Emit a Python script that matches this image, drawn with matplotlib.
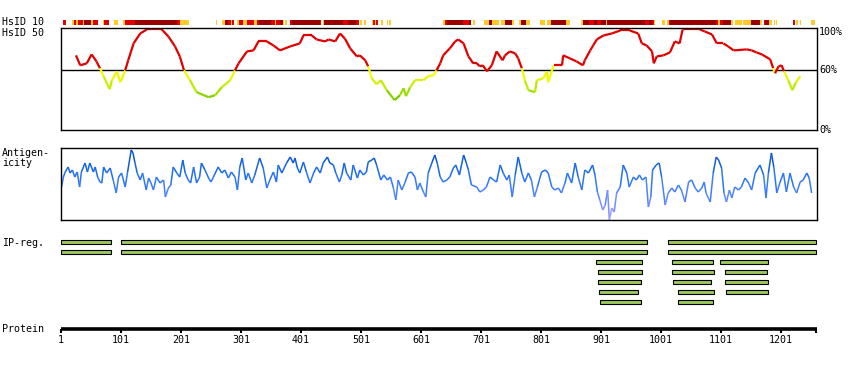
import numpy as np
import matplotlib
matplotlib.use("Agg")
import matplotlib.pyplot as plt
from matplotlib.collections import LineCollection
from matplotlib.colors import LinearSegmentedColormap
import matplotlib.transforms as mtransforms

protein_len = 1260

# HsID 10 strip: (start, end) residues per colour
strip_dark = [(40, 51), (124, 195), (274, 280), (331, 351), (366, 371), (386, 432), (439, 471),
              (479, 492), (645, 671), (681, 684), (714, 719), (741, 753), (768, 776), (818, 843),
              (871, 881), (889, 894), (901, 909), (911, 975), (981, 986), (1016, 1093),
              (1104, 1118), (1151, 1166), (1174, 1181)]
strip_red = [(4, 9), (23, 26), (29, 38), (55, 63), (73, 81), (107, 124), (195, 199), (280, 284),
             (286, 290), (298, 304), (311, 323), (328, 331), (351, 358), (360, 366), (383, 386),
             (432, 435), (471, 479), (492, 498), (521, 525), (526, 529), (641, 645), (671, 681),
             (881, 889), (894, 901), (975, 981), (986, 989), (1014, 1016), (1093, 1096),
             (1099, 1104), (1173, 1174), (1221, 1224)]
strip_gold = [(19, 23), (26, 29), (38, 40), (51, 55), (71, 73), (89, 96), (104, 107), (199, 214),
              (259, 261), (269, 274), (284, 286), (294, 298), (304, 311), (323, 328), (358, 360),
              (371, 372), (375, 378), (437, 439), (499, 503), (506, 509), (519, 521), (525, 526),
              (534, 538), (544, 546), (548, 551), (638, 641), (688, 691), (706, 714), (719, 731),
              (734, 741), (753, 756), (764, 768), (776, 783), (799, 808), (811, 818), (843, 849),
              (868, 871), (909, 911), (989, 991), (1003, 1008), (1011, 1014), (1096, 1099),
              (1118, 1121), (1124, 1136), (1138, 1151), (1166, 1169), (1181, 1186), (1189, 1191),
              (1193, 1194), (1226, 1229), (1233, 1235), (1251, 1258)]

# HsID 50 curve (%)
hsid50_pos = [26, 33, 44, 52, 60, 66, 72, 82, 86, 94, 100, 108, 113, 122, 133, 144, 169, 180, 191, 199,
              206, 216, 227, 247, 258, 269, 283, 291, 297, 311, 322, 330, 344, 355, 366, 383, 399, 405, 419, 427,
              441, 447, 458, 466, 474, 483, 494, 499, 508, 513, 519, 527, 534, 544, 557, 566, 572, 576, 583, 591,
              605, 613, 622, 627, 633, 638, 649, 658, 663, 672, 680, 688, 694, 699, 704, 711, 719, 727, 737, 741,
              749, 758, 763, 769, 774, 780, 791, 794, 805, 811, 813, 822, 836, 838, 849, 860, 871, 874, 883, 888,
              894, 905, 919, 933, 949, 963, 969, 977, 986, 989, 994, 1005, 1016, 1024, 1032, 1037, 1066, 1074, 1086, 1094,
              1105, 1113, 1122, 1144, 1152, 1160, 1169, 1183, 1188, 1191, 1197, 1202, 1206, 1213, 1220, 1226, 1233]
hsid50_val = [75, 65, 67, 76, 69, 62, 54, 41, 50, 59, 48, 60, 70, 87, 97, 101, 101, 94, 84, 74,
              60, 50, 38, 33, 35, 43, 50, 60, 67, 79, 80, 89, 89, 85, 80, 84, 87, 95, 95, 91,
              89, 91, 89, 97, 92, 82, 74, 75, 70, 64, 52, 46, 50, 40, 30, 35, 42, 34, 43, 50,
              50, 54, 55, 60, 67, 75, 82, 89, 91, 87, 74, 67, 67, 64, 65, 59, 65, 79, 70, 75,
              79, 77, 72, 62, 50, 40, 38, 50, 52, 59, 48, 65, 65, 75, 72, 69, 65, 70, 80, 85,
              91, 95, 97, 100, 100, 97, 87, 85, 79, 67, 74, 75, 78, 89, 87, 101, 101, 99, 96, 87,
              87, 84, 80, 81, 80, 78, 76, 71, 62, 57, 64, 65, 59, 50, 40, 48, 54]

# Antigenicity profile
ant_pos = [2, 5, 8, 13, 16, 20, 24, 28, 32, 35, 41, 45, 49, 55, 58, 62, 66, 69, 72, 77,
           83, 88, 93, 97, 102, 108, 112, 118, 121, 124, 128, 133, 137, 143, 147, 151, 155, 160, 166, 172,
           175, 180, 184, 188, 194, 199, 204, 208, 213, 217, 222, 227, 232, 235, 241, 247, 251, 255, 263, 269,
           274, 280, 285, 291, 295, 299, 303, 309, 313, 319, 324, 332, 335, 338, 344, 349, 355, 360, 363, 369,
           377, 383, 388, 391, 395,
           399, 405, 410, 416, 422, 427, 433, 438, 445, 449, 455, 459, 465, 469, 473, 477, 484, 488, 495, 499,
           505, 510, 513, 519, 523, 527, 534, 539, 545, 550, 555, 559, 563, 569, 574, 580, 585, 591, 595, 599,
           605, 609, 613, 619, 624, 628, 633, 638, 644, 649, 655, 659, 665, 672, 676, 680, 685, 694, 699, 705,
           710, 716, 722, 727, 733, 738, 744, 748, 753, 758, 763, 769, 774, 780, 785, 790, 795, 802, 808, 813,
           819, 824, 830, 835, 841, 845, 852, 858, 863, 869, 874, 880, 887, 891, 895,
           899, 904, 908, 912, 915, 919, 923, 927, 933, 938, 944, 948, 955, 960, 965, 970, 976, 980, 984, 987,
           993, 998, 1002, 1008, 1013, 1019, 1024, 1030, 1035, 1041, 1047, 1052, 1058, 1063, 1069, 1073, 1076, 1083, 1088, 1093,
           1097, 1102, 1106, 1110, 1115, 1119, 1124, 1130, 1135, 1141, 1147, 1152, 1158, 1166, 1172, 1176, 1180, 1185, 1189, 1194,
           1199, 1205, 1210, 1216, 1222, 1227, 1233, 1238, 1244, 1248, 1252]
ant_val = [33, 43, 48, 53, 47, 50, 43, 48, 33, 48, 57, 48, 57, 48, 53, 43, 38, 37, 53, 47,
           52, 40, 27, 43, 47, 33, 48, 70, 67, 58, 47, 40, 47, 30, 42, 37, 30, 43, 37, 40,
           23, 32, 35, 53, 47, 43, 60, 47, 40, 37, 53, 37, 43, 57, 50, 42, 38, 43, 53, 47,
           50, 42, 48, 43, 30, 53, 62, 40, 47, 37, 45, 62, 57, 52, 32, 40, 48, 38, 55, 47,
           57, 63, 57, 62, 52,
           47, 58, 48, 37, 47, 53, 47, 57, 63, 57, 55, 47, 38, 45, 57, 47, 40, 55, 42, 50,
           45, 48, 58, 60, 62, 55, 40, 45, 40, 43, 32, 20, 40, 30, 37, 47, 48, 43, 30, 37,
           28, 23, 47, 57, 65, 57, 43, 38, 40, 43, 52, 55, 45, 65, 58, 50, 35, 33, 28, 30,
           33, 43, 40, 38, 55, 47, 40, 45, 23, 45, 63, 47, 38, 47, 40, 23, 33, 48, 50, 47,
           33, 30, 32, 27, 37, 47, 37, 57, 43, 30, 50, 47, 55, 45, 28,
           20, 10, 15, 30, 0, 12, 8, 27, 33, 55, 47, 33, 43, 40, 45, 40, 43, 13, 23, 50,
           55, 57, 43, 15, 27, 32, 28, 35, 30, 18, 38, 40, 32, 28, 32, 38, 27, 18, 47, 63,
           60, 52, 27, 18, 30, 22, 33, 30, 33, 42, 37, 30, 47, 55, 45, 22, 47, 67, 53, 27,
           37, 47, 28, 47, 33, 27, 38, 40, 47, 42, 27]

# IP-reg. rows: (start, end) residues
ip_rows = [
    [(1, 84), (101, 977), (1013, 1260)],
    [(1, 84), (101, 977), (1013, 1260)],
    [(893, 970), (1020, 1087), (1100, 1179)],
    [(896, 970), (1020, 1090), (1108, 1177)],
    [(896, 967), (1021, 1085), (1108, 1180)],
    [(898, 962), (1030, 1090), (1110, 1180)],
    [(900, 967), (1030, 1087)],
]

tick_pos = [1, 101, 201, 301, 401, 501, 601, 701, 801, 901, 1001, 1101, 1201]

W, H = 850, 370
FONT = "DejaVu Sans Mono"
FS = 7.2
plt.rcParams["font.family"] = FONT

fig = plt.figure(figsize=(W / 100, H / 100), dpi=100)


def px_axes(x0, y0, x1, y1):
    return fig.add_axes([x0 / W, 1 - y1 / H, (x1 - x0) / W, (y1 - y0) / H])


def label(x, y, s):
    fig.text(x / W, 1 - y / H, s, fontsize=FS, va="center", ha="left", linespacing=1.1)


xlim = (1, protein_len + 1)

# HsID 10 strip
ax_s = px_axes(61, 20, 817, 25)
for segs, col in [(strip_dark, "#990000"), (strip_red, "#e00000"), (strip_gold, "#ffc926")]:
    ax_s.broken_barh([(a, b - a) for a, b in segs], (0, 1), facecolor=col, edgecolor="none")
ax_s.set_xlim(*xlim)
ax_s.set_ylim(0, 1)
ax_s.axis("off")

# HsID 50 panel
ax1 = px_axes(61, 28.3, 817, 130)
ax1.set_xlim(*xlim)
ax1.set_ylim(0, 102.2)
ax1.set_xticks([])
ax1.set_yticks([])
for sp in ax1.spines.values():
    sp.set_linewidth(1.0)
ax1.axhline(60, color="black", lw=1.0)
hs_cmap = LinearSegmentedColormap.from_list(
    "hs", [(0, "#6cc000"), (0.35, "#a8e800"), (0.7, "#e0f400"), (1.0, "#ffff00")])
x = np.array(hsid50_pos, dtype=float)
y = np.array(hsid50_val, dtype=float)
pts = np.column_stack([x, y]).reshape(-1, 1, 2)
segs = np.concatenate([pts[:-1], pts[1:]], axis=1)
mid = (y[:-1] + y[1:]) / 2
cols = [("#e00000" if m >= 60 else hs_cmap(np.clip((m - 30) / 30, 0, 1))) for m in mid]
ax1.add_collection(LineCollection(segs, colors=cols, linewidths=1.6, capstyle="butt"))
tr = mtransforms.blended_transform_factory(ax1.transAxes, ax1.transData)
for v, s in [(98, "100%"), (60, "60%"), (0, "0%")]:
    ax1.text(1.003, v, s, transform=tr, fontsize=FS, va="center", ha="left")

# Antigenicity panel
ax2 = px_axes(61, 148.3, 817, 220)
ax2.set_xlim(*xlim)
ax2.set_ylim(0, 71.7)
ax2.set_xticks([])
ax2.set_yticks([])
for sp in ax2.spines.values():
    sp.set_linewidth(1.0)
ag_cmap = LinearSegmentedColormap.from_list(
    "ag", [(0, "#b4aaff"), (0.2, "#8090ff"), (0.45, "#4080ff"), (0.7, "#1a6cf0"), (1.0, "#0048b8")])
x = np.array(ant_pos, dtype=float)
y = np.array(ant_val, dtype=float)
pts = np.column_stack([x, y]).reshape(-1, 1, 2)
segs = np.concatenate([pts[:-1], pts[1:]], axis=1)
mid = (y[:-1] + y[1:]) / 2
ax2.add_collection(LineCollection(segs, colors=ag_cmap(np.clip(mid / 70, 0, 1)), linewidths=1.1))

# IP-reg bars
ax3 = px_axes(61, 237, 817, 307)
ax3.set_xlim(*xlim)
ax3.set_ylim(7, 0)
ax3.axis("off")
for i, row in enumerate(ip_rows):
    for a, b in row:
        ax3.barh(i + 0.5, b - a, left=a, height=0.42, color="#9cc95c",
                 edgecolor="black", linewidth=0.8)

# Protein axis
ax4 = px_axes(61, 300, 817, 329)
ax4.set_xlim(*xlim)
ax4.set_ylim(0, 1)
for s in ["left", "top", "right"]:
    ax4.spines[s].set_visible(False)
ax4.spines["bottom"].set_linewidth(2.6)
ax4.spines["bottom"].set_capstyle("butt")
ax4.set_yticks([])
ax4.set_xticks(tick_pos + [protein_len])
ax4.set_xticklabels([str(t) for t in tick_pos] + [""])
ax4.tick_params(axis="x", length=3, width=1.5, pad=1.5, labelsize=FS)
ax4.patch.set_visible(False)

label(2, 22, "HsID 10")
label(2, 32.5, "HsID 50")
label(2, 158, "Antigen-\nicity")
label(2, 243, "IP-reg.")
label(2, 329, "Protein")

fig.savefig("out.png", dpi=100)
